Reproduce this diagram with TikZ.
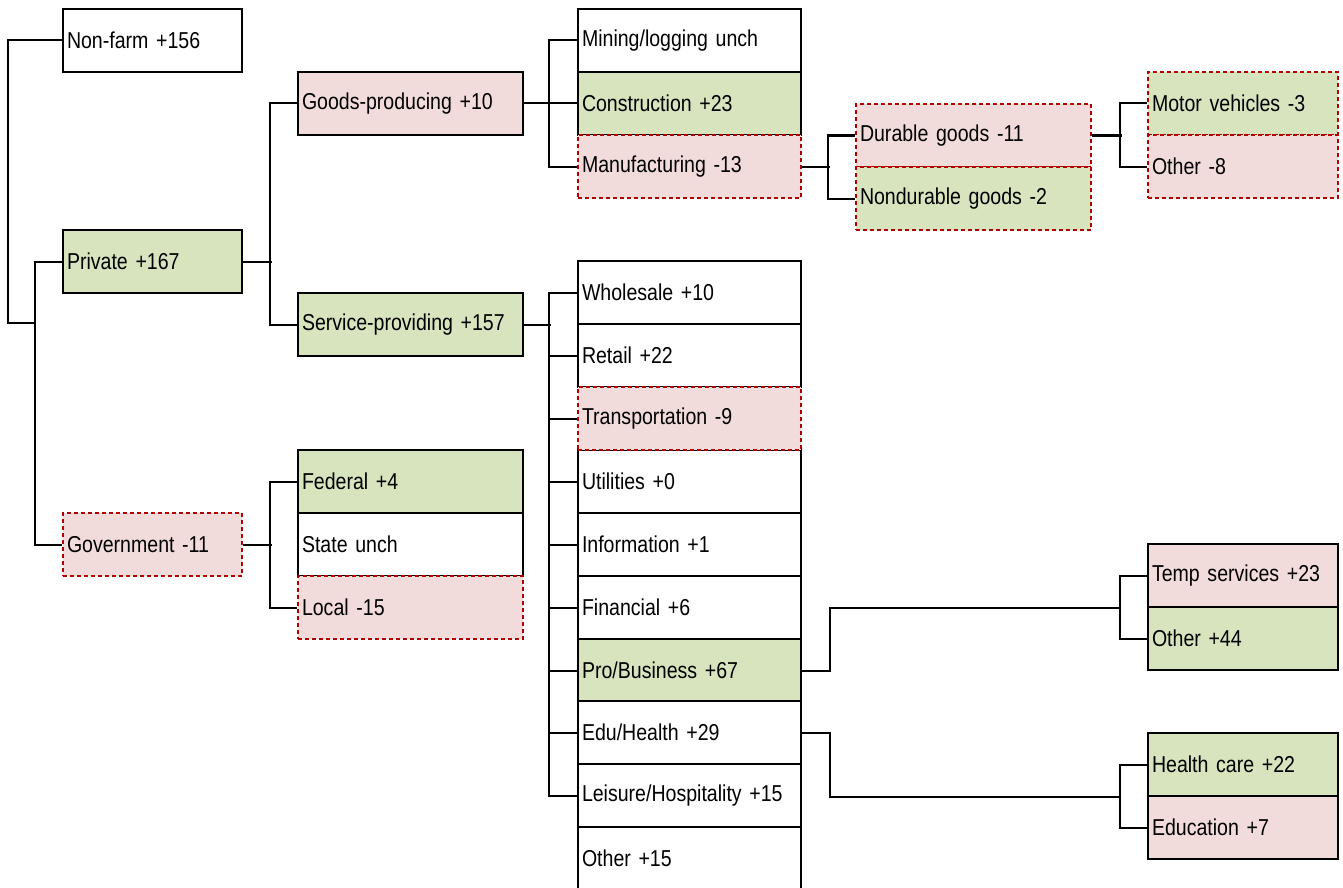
\documentclass[tikz,border=0pt]{standalone}
\usepackage{fontspec}
\setmainfont[FakeStretch=0.85]{Liberation Sans}
\definecolor{upgreen}{HTML}{D7E4BD}
\definecolor{downpink}{HTML}{F2DCDB}
\definecolor{lossred}{HTML}{B00000}
\DeclareRobustCommand\cellfont{\fontsize{23}{27}\selectfont\spaceskip=4.6pt\relax}
\begin{document}
\begin{tikzpicture}[x=1pt, y=-1pt,
  cell/.style={draw, line width=2pt, anchor=north west, minimum height=63pt,
    text width=#1, inner xsep=4pt, align=left, fill=white,
    font=\cellfont},
  up/.style={fill=upgreen},
  down/.style={fill=downpink},
  loss/.style={draw=lossred, dash pattern=on 4pt off 3pt},
  link/.style={line width=2pt}]
  \clip (0,0) rectangle (1343,888);

  % first level
  \node[cell=171pt] (nonfarm) at (62,8) {Non-farm +156};
  \node[cell=171pt, up] (private) at (62,229) {Private +167};
  \node[cell=171pt, down, loss] (govt) at (62,512) {Government -11};

  % second level
  \node[cell=217pt, down] (goods) at (297,71) {Goods-producing +10};
  \node[cell=217pt, up] (service) at (297,292) {Service-providing +157};
  \node[cell=217pt, up] (federal) at (297,449) {Federal +4};
  \node[cell=217pt] (state) at (297,512) {State unch};
  \node[cell=217pt, down, loss] (local) at (297,575) {Local -15};

  % goods
  \node[cell=215pt] (mining) at (577,8) {Mining/logging unch};
  \node[cell=215pt, up] (constr) at (577,71) {Construction +23};
  \node[cell=215pt, down, loss] (manuf) at (577,134) {Manufacturing -13};
  \node[cell=227pt, down, loss] (durable) at (855,103) {Durable goods -11};
  \node[cell=227pt, up, loss] (nondur) at (855,166) {Nondurable goods -2};
  \node[cell=182pt, up, loss] (motor) at (1147,71) {Motor vehicles -3};
  \node[cell=182pt, down, loss] (othdur) at (1147,134) {Other -8};

  % services
  \node[cell=215pt] (wholesale) at (577,260) {Wholesale +10};
  \node[cell=215pt] (retail) at (577,323) {Retail +22};
  \node[cell=215pt] (util) at (577,449) {Utilities +0};
  \node[cell=215pt, down, loss] (transp) at (577,386) {Transportation -9};
  \node[cell=215pt] (info) at (577,512) {Information +1};
  \node[cell=215pt] (financ) at (577,575) {Financial +6};
  \node[cell=215pt, up] (probus) at (577,638) {Pro/Business +67};
  \node[cell=215pt] (eduhealth) at (577,700) {Edu/Health +29};
  \node[cell=215pt] (leisure) at (577,763) {Leisure/Hospitality +15};
  \node[cell=215pt, minimum height=80pt, text depth=18pt] (othserv) at (577,826) {Other +15};

  \node[cell=182pt, down] (temp) at (1147,543) {Temp services +23};
  \node[cell=182pt, up] (othbus) at (1147,606) {Other +44};
  \node[cell=182pt, up] (health) at (1147,732) {Health care +22};
  \node[cell=182pt, down] (educ) at (1147,795) {Education +7};

  \coordinate (split) at (35,323);

  \draw[link] (nonfarm.west) -- ++(-54,0) |- (split);
  \draw[link] (private.west) -- ++(-27,0) |- (govt.west);

  \draw[link] (private.east) -- ++(29,0);
  \draw[link] (goods.west) -- ++(-27,0) |- (service.west);

  \draw[link] (govt.east) -- ++(29,0);
  \draw[link] (federal.west) -- ++(-27,0) |- (local.west);

  \draw[link] (goods.east) -- ++(27,0);
  \draw[link] (mining.west) -- ++(-28,0) |- (manuf.west);
  \draw[link] (constr.west) -- ++(-28,0);

  \draw[link] (manuf.east) -- ++(28,0);
  \draw[link] (durable.west) -- ++(-27,0) |- (nondur.west);

  \draw[link] (durable.east) -- ++(30,0);
  \draw[link] (motor.west) -- ++(-27,0) |- (othdur.west);

  \draw[link] (service.east) -- ++(27,0);
  \draw[link] (wholesale.west) -- ++(-28,0) |- (leisure.west);
  \foreach \n in {retail,transp,util,info,financ,probus,eduhealth}
    \draw[link] (\n.west) -- ++(-28,0);

  \draw[link] (probus.east) -- ++(28,0) |- ([xshift=-27pt]temp.south west);
  \draw[link] (temp.west) -- ++(-27,0) |- (othbus.west);

  \draw[link] (eduhealth.east) -- ++(28,0) |- ([xshift=-27pt]health.south west);
  \draw[link] (health.west) -- ++(-27,0) |- (educ.west);
\end{tikzpicture}
\end{document}
